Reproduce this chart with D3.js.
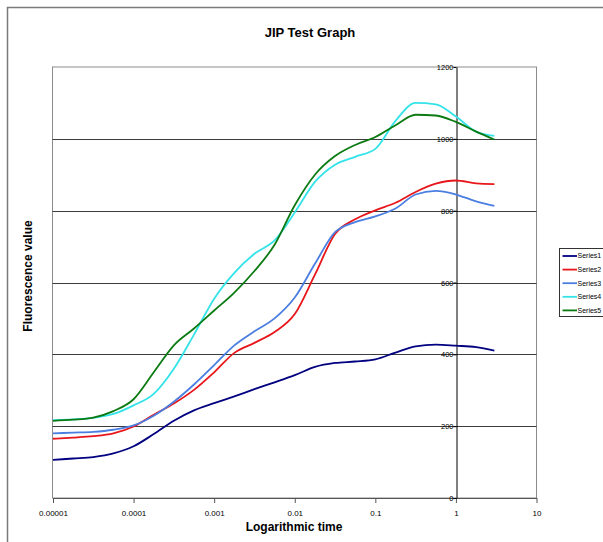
<!DOCTYPE html>
<html>
<head>
<meta charset="utf-8">
<script src="https://cdn.jsdelivr.net/npm/d3@7"></script>
<style>
  html, body { margin: 0; padding: 0; background: #fff; overflow: hidden; }
  text { font-family: Arial, "Liberation Sans", sans-serif; }
</style>
</head>
<body>
<svg id="chart" width="603" height="542"></svg>
<script>
// ---- data ----
const times = [0.00001, 0.0000178, 0.0000316, 0.0000562, 0.0001, 0.000178, 0.000316, 0.000562,
               0.001, 0.00178, 0.00316, 0.00562, 0.01, 0.0178, 0.0316, 0.0562,
               0.1, 0.178, 0.316, 0.562, 1, 1.78, 3];
const seriesNames = ["Series1", "Series2", "Series3", "Series4", "Series5"];
const series1 = [106, 110, 114, 124, 144, 178, 215, 244, 264, 283, 303, 322, 342, 365, 376, 380, 386, 405, 422, 427, 424, 420, 410];
const series2 = [165, 168, 172, 180, 199, 232, 263, 301, 350, 404, 432, 462, 512, 622, 735, 776, 801, 822, 852, 875, 884, 876, 874];
const series3 = [180, 182, 184, 190, 202, 229, 268, 316, 370, 425, 464, 500, 558, 652, 740, 768, 784, 806, 845, 855, 845, 826, 813];
const series4 = [217, 219, 223, 234, 258, 290, 360, 455, 555, 627, 680, 717, 795, 880, 928, 950, 972, 1050, 1100, 1096, 1062, 1020, 1008];
const series5 = [215, 218, 224, 242, 275, 350, 425, 472, 522, 572, 632, 705, 815, 900, 952, 983, 1005, 1038, 1067, 1065, 1047, 1020, 998];
const xTicks = [0.00001, 0.0001, 0.001, 0.01, 0.1, 1, 10];
const xTickLabels = ["0.00001", "0.0001", "0.001", "0.01", "0.1", "1", "10"];
const yTicks = [0, 200, 400, 600, 800, 1000, 1200];
const colors = ["#000080", "#e8161b", "#4a7ee0", "#33e3e8", "#0b7a12"];

const allSeries = [series1, series2, series3, series4, series5];

// ---- layout ----
const svg = d3.select("#chart");
const plot = { left: 52.5, right: 536.5, top: 67, bottom: 498 };

const x = d3.scaleLog().domain([0.00001, 10]).range([plot.left + 0.5, plot.right]);
const y = d3.scaleLinear().domain([0, 1200]).range([plot.bottom, plot.top]);

// outer chart border
svg.append("rect").attr("x", 7.5).attr("y", 7.5).attr("width", 700).attr("height", 560)
  .attr("fill", "#fff").attr("stroke", "#7a7a7a").attr("stroke-width", 1.5);

// title
svg.append("text").attr("x", 310).attr("y", 36.5).attr("text-anchor", "middle")
  .attr("font-size", 13).attr("font-weight", "bold").text("JIP Test Graph");

// plot area border
svg.append("rect").attr("x", plot.left).attr("y", plot.top)
  .attr("width", plot.right - plot.left).attr("height", plot.bottom - plot.top)
  .attr("fill", "#fff").attr("stroke", "#8c8c8c").attr("stroke-width", 1);

// gridlines
svg.append("g").selectAll("line").data(yTicks.filter(d => d > 0 && d < 1200)).join("line")
  .attr("x1", plot.left).attr("x2", plot.right)
  .attr("y1", d => Math.round(y(d)) + 0.5).attr("y2", d => Math.round(y(d)) + 0.5)
  .attr("stroke", "#3c3c3c").attr("stroke-width", 1);

// x axis (at y = 0)
const xAxis = d3.axisBottom(x).tickValues(xTicks)
  .tickFormat((d, i) => xTickLabels[i]).tickSize(5).tickSizeOuter(0);
const gx = svg.append("g").attr("transform", `translate(0,${plot.bottom})`).call(xAxis);
gx.select(".domain").attr("stroke", "#555");
gx.selectAll(".tick line").attr("stroke", "#555");
gx.selectAll(".tick text").attr("font-size", 8).attr("font-family", "Arial, 'Liberation Sans', sans-serif")
  .attr("fill", "#000").attr("dy", "1.3em");

// y axis crossing at x = 1
const yAxis = d3.axisLeft(y).tickValues(yTicks).tickFormat(d3.format("d")).tickSize(3).tickSizeOuter(0);
const gy = svg.append("g").attr("transform", `translate(${Math.round(x(1)) + 0.5},0)`).call(yAxis);
gy.select(".domain").attr("stroke", "#000");
gy.selectAll(".tick line").attr("stroke", "#000");
gy.selectAll(".tick text").attr("font-size", 7.5).attr("font-family", "Arial, 'Liberation Sans', sans-serif")
  .attr("fill", "#000").attr("x", -3).attr("dy", "0.35em");

// axis titles
svg.append("text").attr("x", 294).attr("y", 531).attr("text-anchor", "middle")
  .attr("font-size", 12).attr("font-weight", "bold").text("Logarithmic time");
svg.append("text").attr("transform", "translate(32,276) rotate(-90)").attr("text-anchor", "middle")
  .attr("font-size", 12).attr("font-weight", "bold").text("Fluorescence value");

// series lines
const line = d3.line().x((d, i) => x(times[i])).y(d => y(d)).curve(d3.curveMonotoneX);
svg.append("g").selectAll("path").data(allSeries).join("path")
  .attr("d", d => line(d)).attr("fill", "none")
  .attr("stroke", (d, i) => colors[i]).attr("stroke-width", 1.8)
  .attr("stroke-linejoin", "round");

// legend
const lg = svg.append("g");
lg.append("rect").attr("x", 559.5).attr("y", 248.5).attr("width", 80).attr("height", 68)
  .attr("fill", "#fff").attr("stroke", "#333").attr("stroke-width", 1);
const rows = lg.selectAll("g.row").data(seriesNames).join("g").attr("class", "row")
  .attr("transform", (d, i) => `translate(0,${256 + i * 13.6})`);
rows.append("line").attr("x1", 562.5).attr("x2", 577).attr("y1", 0).attr("y2", 0)
  .attr("stroke", (d, i) => colors[i]).attr("stroke-width", 1.8);
rows.append("text").attr("x", 577.5).attr("y", 0).attr("dy", "0.35em")
  .attr("font-size", 7).text(d => d);
</script>
</body>
</html>
